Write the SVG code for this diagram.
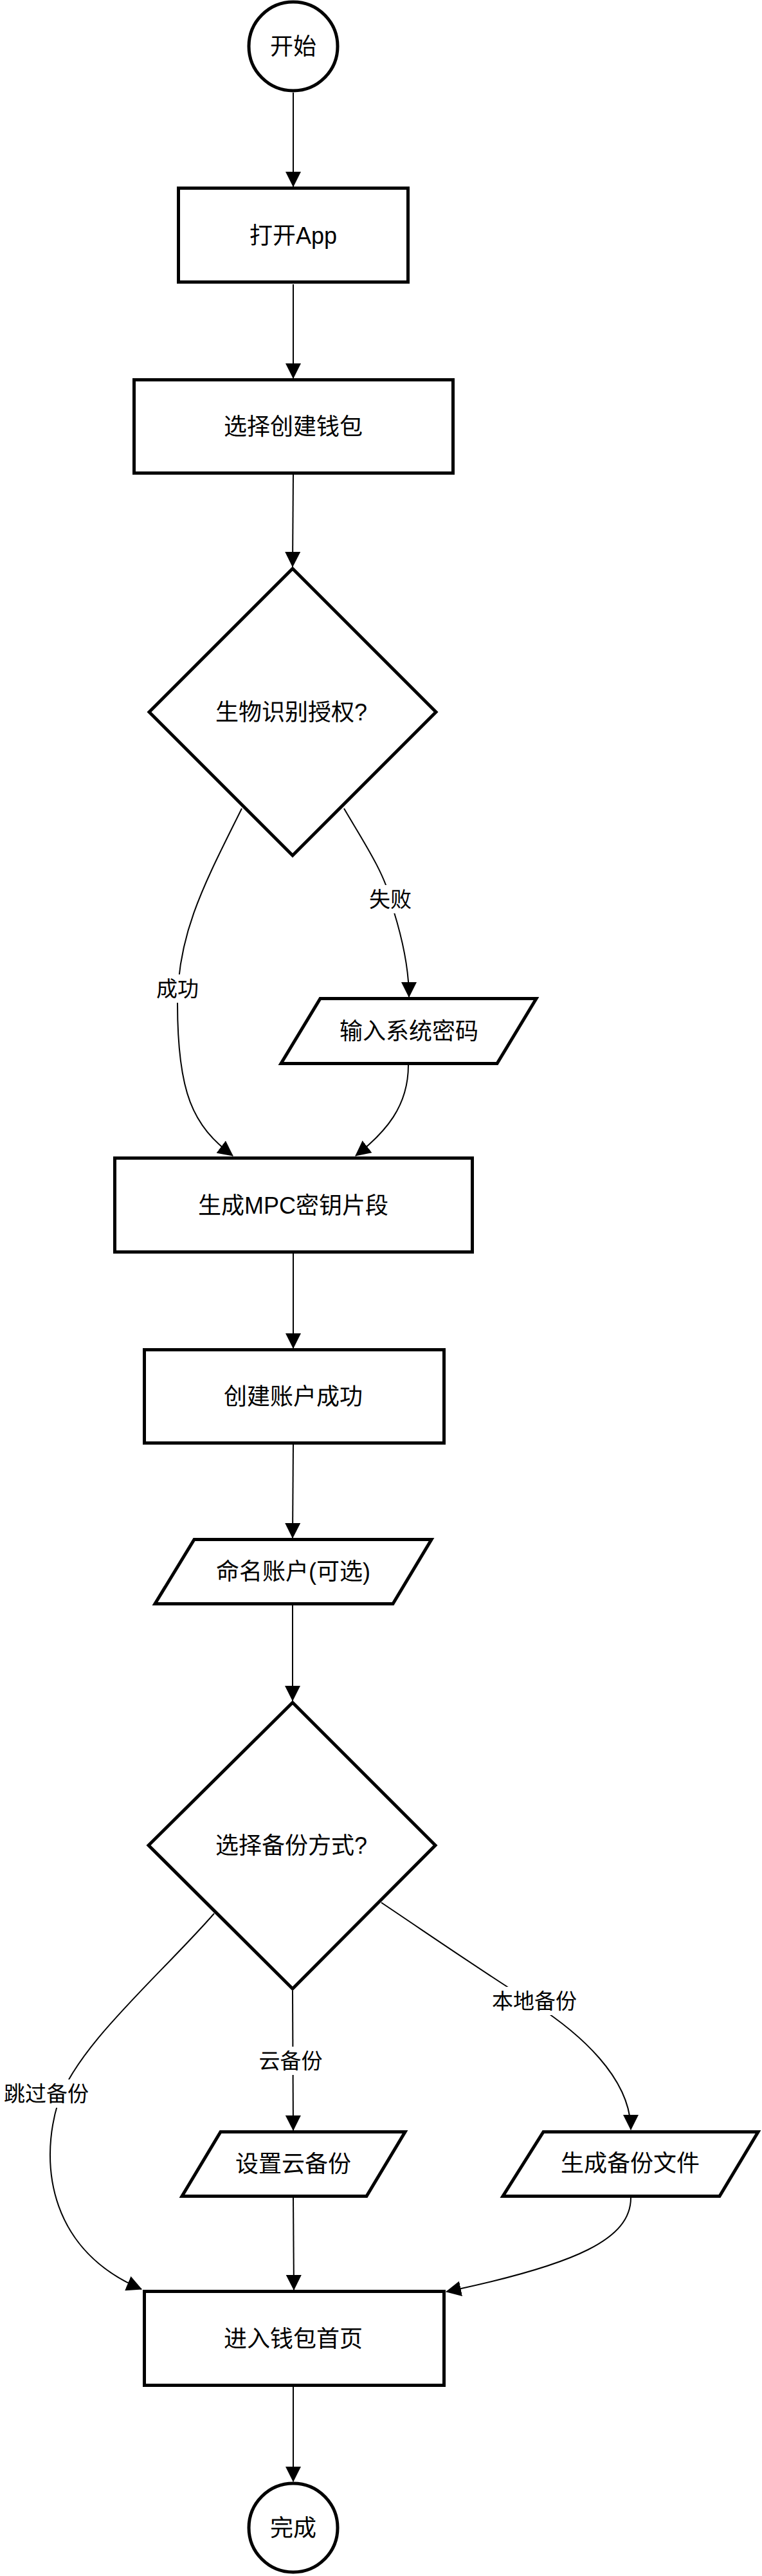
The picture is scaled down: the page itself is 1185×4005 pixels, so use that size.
<svg xmlns="http://www.w3.org/2000/svg" width="1185" height="4005" viewBox="0 0 1185 4005">
  <style>
    .node { fill: #ffffff; stroke: #000000; stroke-width: 5; }
    .edge { fill: none; stroke: #000000; stroke-width: 2; marker-end: url(#arrow); }
    .t { font-family: "Liberation Sans", "Noto Sans CJK SC", sans-serif; font-size: 36px; fill: #000000; text-anchor: middle; dominant-baseline: central; }
    .lt { font-family: "Liberation Sans", "Noto Sans CJK SC", sans-serif; font-size: 33px; fill: #000000; text-anchor: middle; dominant-baseline: central; }
    .lbg { fill: #ffffff; stroke: none; }
  </style>
  <defs>
    <marker id="arrow" markerUnits="userSpaceOnUse" markerWidth="24" markerHeight="24" refX="23" refY="12" orient="auto" viewBox="0 0 24 24">
      <path d="M0,0 L24,12 L0,24 Z" fill="#000000"/>
    </marker>
  </defs>
  <rect x="0" y="0" width="1185" height="4005" fill="#ffffff"/>

  <g id="connectors">
    <path class="edge" d="M456,144 L456,290"/>
    <path class="edge" d="M456,442 L456,588"/>
    <path class="edge" d="M456,738 L455,881"/>
    <path class="edge" d="M376,1257 C320,1370 276,1450 276,1560 C276,1700 300,1750 362,1797"/>
    <path class="edge" d="M535,1257 C560,1300 600,1360 607,1400 C622,1445 636,1500 636,1550"/>
    <path class="edge" d="M635,1656 C635,1720 600,1760 553,1797"/>
    <path class="edge" d="M456,1949 L456,2096"/>
    <path class="edge" d="M456,2246 L455,2391"/>
    <path class="edge" d="M455,2496 L455,2644"/>
    <path class="edge" d="M333,2975 C250,3070 120,3180 90,3270 C60,3370 80,3500 220,3559"/>
    <path class="edge" d="M455,3095 L456,3312"/>
    <path class="edge" d="M593,2958 C700,3030 780,3085 830,3115 C900,3160 981,3230 981,3311"/>
    <path class="edge" d="M456,3417 L457,3560"/>
    <path class="edge" d="M981,3417 C981,3480 900,3520 694,3563"/>
    <path class="edge" d="M456,3711 L456,3858"/>

    <g id="label-success">
      <rect class="lbg" x="243" y="1515" width="66" height="44"/>
      <text class="lt" x="276" y="1537">成功</text>
    </g>
    <g id="label-fail">
      <rect class="lbg" x="574" y="1376" width="66" height="44"/>
      <text class="lt" x="607" y="1398">失败</text>
    </g>
    <g id="label-skip">
      <rect class="lbg" x="6" y="3233" width="132" height="44"/>
      <text class="lt" x="72" y="3255">跳过备份</text>
    </g>
    <g id="label-cloud">
      <rect class="lbg" x="403" y="3182" width="99" height="44"/>
      <text class="lt" x="452" y="3204">云备份</text>
    </g>
    <g id="label-local">
      <rect class="lbg" x="765" y="3089" width="132" height="44"/>
      <text class="lt" x="831" y="3111">本地备份</text>
    </g>
  </g>

  <g id="start">
    <circle class="node" cx="456" cy="72" r="69"/>
    <text class="t" x="456" y="72">开始</text>
  </g>
  <g id="openApp">
    <rect class="node" x="277.5" y="292.5" width="357" height="146"/>
    <text class="t" x="456" y="366">打开App</text>
  </g>
  <g id="createWallet">
    <rect class="node" x="208.5" y="590.5" width="496" height="145"/>
    <text class="t" x="456" y="663">选择创建钱包</text>
  </g>
  <g id="bioAuth">
    <polygon class="node" points="455,884 678,1107 455,1330 232,1107"/>
    <text class="t" x="453" y="1107">生物识别授权?</text>
  </g>
  <g id="inputPassword">
    <polygon class="node" points="498,1552.5 834,1552.5 773,1653.5 437,1653.5"/>
    <text class="t" x="636" y="1603">输入系统密码</text>
  </g>
  <g id="genMPC">
    <rect class="node" x="178.5" y="1800.5" width="556" height="146"/>
    <text class="t" x="456" y="1874">生成MPC密钥片段</text>
  </g>
  <g id="accountCreated">
    <rect class="node" x="224.5" y="2098.5" width="466" height="145"/>
    <text class="t" x="456" y="2171">创建账户成功</text>
  </g>
  <g id="nameAccount">
    <polygon class="node" points="302,2393.5 671,2393.5 611,2493.5 241,2493.5"/>
    <text class="t" x="456" y="2443">命名账户(可选)</text>
  </g>
  <g id="backupChoice">
    <polygon class="node" points="455,2647 677,2869 455,3092 231,2869"/>
    <text class="t" x="453" y="2869">选择备份方式?</text>
  </g>
  <g id="cloudBackup">
    <polygon class="node" points="343,3314.5 630,3314.5 570,3414.5 283,3414.5"/>
    <text class="t" x="456" y="3364">设置云备份</text>
  </g>
  <g id="localBackup">
    <polygon class="node" points="845,3314.5 1179,3314.5 1119,3414.5 782,3414.5"/>
    <text class="t" x="980" y="3363">生成备份文件</text>
  </g>
  <g id="walletHome">
    <rect class="node" x="224.5" y="3562.5" width="466" height="146"/>
    <text class="t" x="456" y="3636">进入钱包首页</text>
  </g>
  <g id="end">
    <circle class="node" cx="456" cy="3930" r="69"/>
    <text class="t" x="456" y="3930">完成</text>
  </g>
</svg>
